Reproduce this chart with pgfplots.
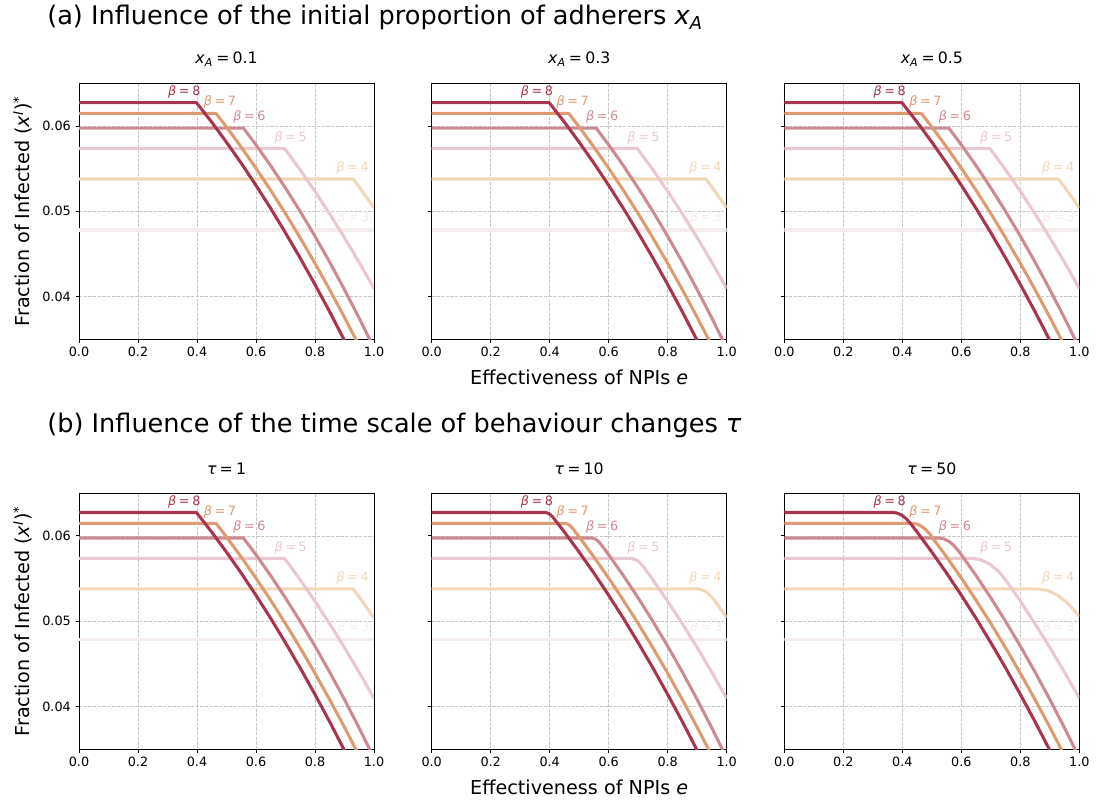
\documentclass[border=0pt]{standalone}
\usepackage{fontspec}
\setmainfont{DejaVu Sans}
\usepackage{pgfplots}
\pgfplotsset{compat=1.18}

% line colours, one per transmission rate
\definecolor{b8}{HTML}{A8344F}
\definecolor{b7}{HTML}{DE9A72}
\definecolor{b6}{HTML}{CC8A94}
\definecolor{b5}{HTML}{E9C9CF}
\definecolor{b4}{HTML}{F1D8B8}
\definecolor{b3}{HTML}{F4EDEB}

\newcommand\tickfont{\fontsize{9.6}{11}\selectfont}
\newcommand\blab{\fontsize{9.6}{11}\selectfont}
\newcommand\ptitle{\fontsize{11.8}{14}\selectfont}
\newcommand\lab{\fontsize{14.4}{17}\selectfont}
\newcommand\headfont{\fontsize{19.2}{23}\selectfont}
\newcommand\eq{\hspace{0.2em}=\hspace{0.2em}}

\pgfplotsset{
  panel/.style={
    scale only axis, width=221.25pt, height=192pt,
    anchor=south west,
    xmin=0, xmax=1, ymin=0.035, ymax=0.065,
    xtick={0,0.2,0.4,0.6,0.8,1},
    xticklabels={0.0,0.2,0.4,0.6,0.8,1.0},
    ytick={0.04,0.05,0.06},
    yticklabels={0.04,0.05,0.06},
    scaled ticks=false,
    tick pos=left, tick align=outside,
    major tick length=2.6pt,
    every tick/.style={black, line width=0.6pt},
    grid=major,
    major grid style={black!22, line width=0.5pt, dash pattern=on 2.4pt off 1.1pt},
    axis line style={black, line width=0.6pt},
    ticklabel style={font=\tickfont},
    /pgf/number format/assume math mode=true,
    every axis plot/.append style={line width=2.3pt, no markers, line join=round, line cap=butt},
  },
  noy/.style={yticklabels={}},
}

% labels of the six curves
\newcommand\betalabels{%
  \node[text=b3, anchor=base, font=\blab] at (axis cs:0.93,0.0488) {\textit{β}\eq 3};
  \node[text=b4, anchor=base, font=\blab] at (axis cs:0.928,0.0546) {\textit{β}\eq 4};
  \node[text=b5, anchor=base, font=\blab] at (axis cs:0.718,0.0582) {\textit{β}\eq 5};
  \node[text=b6, anchor=base, font=\blab] at (axis cs:0.578,0.0606) {\textit{β}\eq 6};
  \node[text=b7, anchor=base, font=\blab] at (axis cs:0.478,0.0624) {\textit{β}\eq 7};
  \node[text=b8, anchor=base, font=\blab] at (axis cs:0.357,0.0636) {\textit{β}\eq 8};
}

% fast behaviour change: sharp transition
\newcommand\curvesSharp{%
  \addplot[b3] coordinates {(0,0.0478)(1,0.0478)};
  \addplot[b4] coordinates {(0,0.05378)(0.9294,0.05378)(0.95,0.05282)(1,0.05040)};
  \addplot[b5] coordinates {(0,0.05736)(0.6969,0.05736)(0.75,0.05484)(0.80,0.05233)(0.85,0.04968)(0.90,0.04690)(0.95,0.04399)(1,0.04094)};
  \addplot[b6] coordinates {(0,0.05975)(0.5574,0.05975)(0.60,0.05778)(0.65,0.05533)(0.70,0.05272)(0.75,0.04997)(0.80,0.04707)(0.85,0.04402)(0.90,0.04081)(0.95,0.03746)(1,0.03396)};
  \addplot[b7] coordinates {(0,0.06146)(0.4646,0.06146)(0.50,0.05987)(0.55,0.05752)(0.60,0.05504)(0.65,0.05244)(0.70,0.04972)(0.75,0.04687)(0.80,0.04389)(0.85,0.04079)(0.90,0.03756)(0.95,0.03421)};
  \addplot[b8] coordinates {(0,0.06274)(0.398,0.06274)(0.45,0.06044)(0.50,0.05809)(0.55,0.05563)(0.60,0.05303)(0.65,0.05032)(0.70,0.04747)(0.75,0.04451)(0.80,0.04141)(0.85,0.03820)(0.90,0.03485)(0.95,0.03139)};
  \betalabels
}

% tau = 10: slightly rounded transition
\newcommand\curvesMid{%
  \addplot[b3] coordinates {(0,0.0478)(1,0.0478)};
  \addplot[b4] coordinates {(0,0.05378)(0.9044,0.05378)(0.9294,0.05349)(0.9544,0.05263)(1,0.05040)};
  \addplot[b5] coordinates {(0,0.05736)(0.6769,0.05736)(0.6969,0.05713)(0.7169,0.05644)(0.75,0.05484)(0.80,0.05233)(0.85,0.04968)(0.90,0.04690)(0.95,0.04399)(1,0.04094)};
  \addplot[b6] coordinates {(0,0.05975)(0.5434,0.05975)(0.5574,0.05959)(0.5714,0.05912)(0.60,0.05778)(0.65,0.05533)(0.70,0.05272)(0.75,0.04997)(0.80,0.04707)(0.85,0.04402)(0.90,0.04081)(0.95,0.03746)(1,0.03396)};
  \addplot[b7] coordinates {(0,0.06146)(0.4526,0.06146)(0.4646,0.06133)(0.4766,0.06093)(0.50,0.05987)(0.55,0.05752)(0.60,0.05504)(0.65,0.05244)(0.70,0.04972)(0.75,0.04687)(0.80,0.04389)(0.85,0.04079)(0.90,0.03756)(0.95,0.03421)};
  \addplot[b8] coordinates {(0,0.06274)(0.386,0.06274)(0.398,0.06261)(0.410,0.06222)(0.45,0.06044)(0.50,0.05809)(0.55,0.05563)(0.60,0.05303)(0.65,0.05032)(0.70,0.04747)(0.75,0.04451)(0.80,0.04141)(0.85,0.03820)(0.90,0.03485)(0.95,0.03139)};
  \betalabels
}

% tau = 50: smooth transition
\newcommand\curvesSlow{%
  \addplot[b3] coordinates {(0,0.0478)(1,0.0478)};
  \addplot[b4] coordinates {(0,0.05378)(0.8594,0.05378)(0.8944,0.05358)(0.9294,0.05298)(0.9644,0.05197)(1,0.05056)};
  \addplot[b5] coordinates {(0,0.05736)(0.6369,0.05736)(0.6669,0.05719)(0.6969,0.05667)(0.7269,0.05581)(0.7569,0.05450)(0.80,0.05233)(0.85,0.04968)(0.90,0.04690)(0.95,0.04399)(1,0.04094)};
  \addplot[b6] coordinates {(0,0.05975)(0.5224,0.05975)(0.5399,0.05965)(0.5574,0.05936)(0.5749,0.05886)(0.5924,0.05814)(0.60,0.05778)(0.65,0.05533)(0.70,0.05272)(0.75,0.04997)(0.80,0.04707)(0.85,0.04402)(0.90,0.04081)(0.95,0.03746)(1,0.03396)};
  \addplot[b7] coordinates {(0,0.06146)(0.4346,0.06146)(0.4496,0.06138)(0.4646,0.06113)(0.4796,0.06072)(0.4946,0.06014)(0.50,0.05987)(0.55,0.05752)(0.60,0.05504)(0.65,0.05244)(0.70,0.04972)(0.75,0.04687)(0.80,0.04389)(0.85,0.04079)(0.90,0.03756)(0.95,0.03421)};
  \addplot[b8] coordinates {(0,0.06274)(0.368,0.06274)(0.383,0.06266)(0.398,0.06242)(0.413,0.06201)(0.428,0.06143)(0.45,0.06044)(0.50,0.05809)(0.55,0.05563)(0.60,0.05303)(0.65,0.05032)(0.70,0.04747)(0.75,0.04451)(0.80,0.04141)(0.85,0.03820)(0.90,0.03485)(0.95,0.03139)};
  \betalabels
}

\begin{document}
\begin{tikzpicture}
\path[use as bounding box] (0,0) rectangle (822.75pt,603.75pt);

% (a) initial proportion of adherers
\begin{axis}[panel, at={(59.25pt,349.3pt)}]
  \curvesSharp
\end{axis}
\begin{axis}[panel, noy, at={(323.78pt,349.3pt)}]
  \curvesSharp
\end{axis}
\begin{axis}[panel, noy, at={(588.3pt,349.3pt)}]
  \curvesSharp
\end{axis}

% (b) time scale of behaviour changes
\begin{axis}[panel, at={(59.25pt,41.85pt)}]
  \curvesSharp
\end{axis}
\begin{axis}[panel, noy, at={(323.78pt,41.85pt)}]
  \curvesMid
\end{axis}
\begin{axis}[panel, noy, at={(588.3pt,41.85pt)}]
  \curvesSlow
\end{axis}

% headings
\node[anchor=base west, font=\headfont, inner sep=0pt] at (35.25pt,585pt)
  {(a) Influence of the initial proportion of adherers \textit{x}\textsubscript{\textit{A}}};
\node[anchor=base west, font=\headfont, inner sep=0pt] at (35.25pt,279pt)
  {(b) Influence of the time scale of behaviour changes \textit{τ}};

% panel titles
\node[anchor=base, font=\ptitle] at (169.9pt,555.75pt) {\textit{x}\textsubscript{\textit{A}}\eq 0.1};
\node[anchor=base, font=\ptitle] at (434.4pt,555.75pt) {\textit{x}\textsubscript{\textit{A}}\eq 0.3};
\node[anchor=base, font=\ptitle] at (698.9pt,555.75pt) {\textit{x}\textsubscript{\textit{A}}\eq 0.5};
\node[anchor=base, font=\ptitle] at (169.9pt,248pt) {\textit{τ}\eq 1};
\node[anchor=base, font=\ptitle] at (434.4pt,248pt) {\textit{τ}\eq 10};
\node[anchor=base, font=\ptitle] at (698.9pt,248pt) {\textit{τ}\eq 50};

% axis labels
\node[anchor=base, font=\lab, inner sep=0pt] at (434.4pt,315.5pt) {Effectiveness of NPIs \textit{e}};
\node[anchor=base, font=\lab, inner sep=0pt] at (434.4pt,8pt) {Effectiveness of NPIs \textit{e}};
\node[anchor=base, font=\lab, rotate=90, inner sep=0pt] at (22.5pt,445.3pt)
  {Fraction of Infected (\textit{x}\textsuperscript{\textit{I}})\textsuperscript{*}};
\node[anchor=base, font=\lab, rotate=90, inner sep=0pt] at (22.5pt,137.8pt)
  {Fraction of Infected (\textit{x}\textsuperscript{\textit{I}})\textsuperscript{*}};
\end{tikzpicture}
\end{document}
